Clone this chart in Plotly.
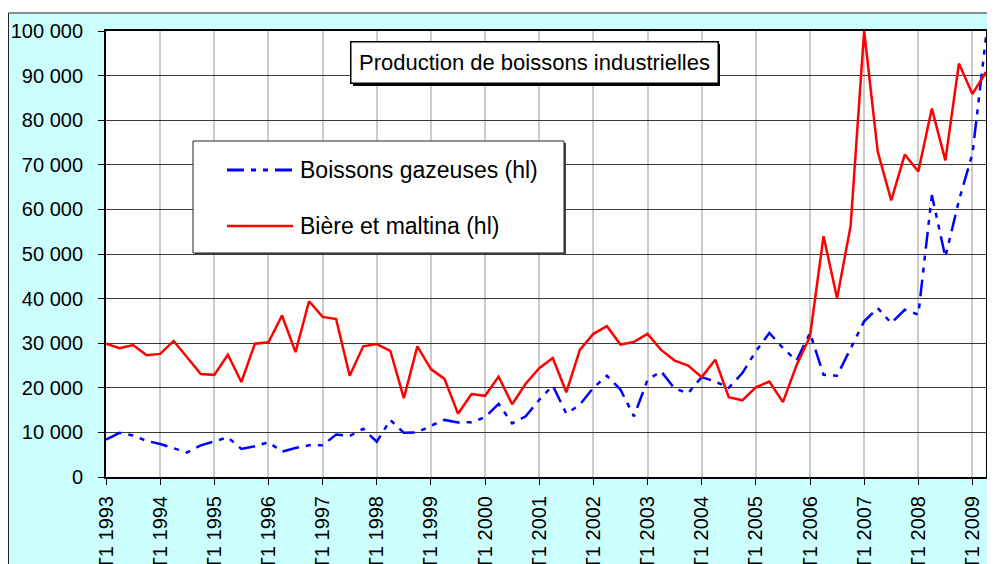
import plotly.graph_objects as go

# ---------------- data ----------------
years = list(range(1993, 2010))
quarters = [f"T{q} {y}" for y in years for q in (1, 2, 3, 4)][:66]   # T1 1993 .. T2 2009
year_ticks = [f"T1 {y}" for y in years]

biere_maltina = [29900, 28900, 29600, 27300, 27600, 30500, 26800, 23100,
                 22900, 27400, 21300, 29900, 30200, 36200, 28000, 39400,
                 35900, 35400, 22700, 29300, 29800, 28300, 17700, 29300,
                 24200, 22000, 14200, 18600, 18200, 22500, 16300, 20900,
                 24400, 26700, 19000, 28500, 32100, 33800, 29700, 30300,
                 32100, 28500, 26100, 25000, 22400, 26300, 17900, 17200,
                 20100, 21400, 16800, 25000, 31500, 54000, 40100, 56300,
                 100000, 73000, 62000, 72300, 68500, 82600, 71000, 92700,
                 85900, 90800]

boissons_gazeuses = [8400, 9900, 9300, 8100, 7400, 6500, 5500, 7100,
                     8000, 8900, 6300, 6900, 7800, 5700, 6500, 7100,
                     7100, 9500, 9200, 10800, 7900, 12800, 9900, 10000,
                     11500, 12800, 12200, 12300, 13400, 16400, 12000, 13600,
                     17300, 20500, 14200, 16200, 20000, 22700, 19600, 13600,
                     21800, 23700, 19800, 18800, 22400, 21400, 20000, 23300,
                     28200, 32300, 28900, 26100, 32300, 22900, 22700, 28900,
                     34900, 37900, 34500, 37500, 36400, 63200, 49300, 62000,
                     72500, 98600]

y_ticks = list(range(0, 100001, 10000))
y_tick_text = [f"{v:,}".replace(",", " ") for v in y_ticks]

title_text = "Production de boissons industrielles"
name_gaz = "Boissons gazeuses (hl)"
name_biere = "Bière et maltina (hl)"

# ---------------- layout geometry ----------------
OFF = 8                       # page body margin
W, H = 995 - OFF, 564 - OFF
ML, MR, MT, MB = 98, 9, 23, 87
PW, PH = W - ML - MR, H - MT - MB
FONT = "Liberation Sans, Arial, sans-serif"
DASH = "17px,7px,5px,7px,5px,7px"


def px(x):  # page pixel -> paper
    return (x - OFF - ML) / PW


def py(y):  # page pixel -> paper
    return (H - MB - (y - OFF)) / PH


fig = go.Figure()
fig.add_trace(go.Scatter(x=quarters, y=boissons_gazeuses, mode="lines", name=name_gaz,
                         line=dict(color="#0000FF", width=2.5, dash=DASH), showlegend=False))
fig.add_trace(go.Scatter(x=quarters, y=biere_maltina, mode="lines", name=name_biere,
                         line=dict(color="#FF0000", width=2.5), showlegend=False))

shapes = []
# white strip above the chart-area frame
shapes.append(dict(type="rect", xref="paper", yref="paper", x0=px(0), x1=px(1000), y0=py(13), y1=py(0),
                   fillcolor="white", line=dict(width=0), layer="below"))
shapes.append(dict(type="rect", xref="paper", yref="paper", x0=px(994), x1=px(1000), y0=py(570), y1=py(0),
                   fillcolor="white", line=dict(width=0), layer="below"))
shapes.append(dict(type="rect", xref="paper", yref="paper", x0=px(8.5), x1=px(994), y0=py(575), y1=py(13),
                   fillcolor="rgba(0,0,0,0)", line=dict(color="#222222", width=1), layer="below"))

# title box shadow
shapes.append(dict(type="rect", xref="paper", yref="paper", x0=px(353), x1=px(720), y0=py(86), y1=py(44),
                   fillcolor="black", line=dict(width=0), layer="above"))
# legend box shadow + box
shapes.append(dict(type="rect", xref="paper", yref="paper", x0=px(195), x1=px(566), y0=py(255), y1=py(143),
                   fillcolor="#444444", line=dict(width=0), layer="above"))
shapes.append(dict(type="rect", xref="paper", yref="paper", x0=px(193), x1=px(564), y0=py(253), y1=py(141),
                   fillcolor="white", line=dict(color="#222222", width=1), layer="above"))
# legend samples
shapes.append(dict(type="line", xref="paper", yref="paper", x0=px(227), x1=px(293), y0=py(170), y1=py(170),
                   line=dict(color="#0000FF", width=3, dash=DASH), layer="above"))
shapes.append(dict(type="line", xref="paper", yref="paper", x0=px(227), x1=px(293), y0=py(226), y1=py(226),
                   line=dict(color="#FF0000", width=2.5), layer="above"))

annotations = [
    dict(xref="paper", yref="paper", x=px(534.5), y=py(62.5), xanchor="center", yanchor="middle",
         text=title_text, showarrow=False, font=dict(family=FONT, size=22, color="black"),
         bgcolor="white", bordercolor="black", borderwidth=1.5, borderpad=2, width=362, height=36),
    dict(xref="paper", yref="paper", x=px(298), y=py(170), xanchor="left", yanchor="middle",
         text=name_gaz, showarrow=False, font=dict(family=FONT, size=23, color="black")),
    dict(xref="paper", yref="paper", x=px(298), y=py(226), xanchor="left", yanchor="middle",
         text=name_biere, showarrow=False, font=dict(family=FONT, size=23, color="black")),
]

fig.update_layout(
    width=W, height=H,
    margin=dict(l=ML, r=MR, t=MT, b=MB, autoexpand=False),
    paper_bgcolor="#CCFFFF", plot_bgcolor="white",
    font=dict(family=FONT, size=20, color="black"),
    showlegend=False,
    shapes=shapes, annotations=annotations,
)
fig.update_xaxes(type="category", categoryorder="array", categoryarray=quarters,
                 range=[0, len(quarters) - 1], tickmode="array", tickvals=year_ticks, ticktext=year_ticks,
                 tickangle=-90, ticks="outside", ticklen=6, tickcolor="black", tickwidth=1,
                 ticklabelstandoff=3, automargin=False,
                 showgrid=True, gridcolor="#CCCCCC", gridwidth=1.5,
                 showline=True, linecolor="black", linewidth=2, mirror=True,
                 tickfont=dict(family=FONT, size=20, color="black"), zeroline=False)
fig.update_yaxes(range=[0, 100000], tickmode="array", tickvals=y_ticks, ticktext=y_tick_text,
                 ticks="outside", ticklen=6, tickcolor="black", tickwidth=1,
                 ticklabelstandoff=11, automargin=False,
                 showgrid=True, gridcolor="#3a3a3a", gridwidth=1,
                 showline=True, linecolor="black", linewidth=2, mirror=True,
                 tickfont=dict(family=FONT, size=20, color="black"), zeroline=False)

fig.write_html("out.html")
